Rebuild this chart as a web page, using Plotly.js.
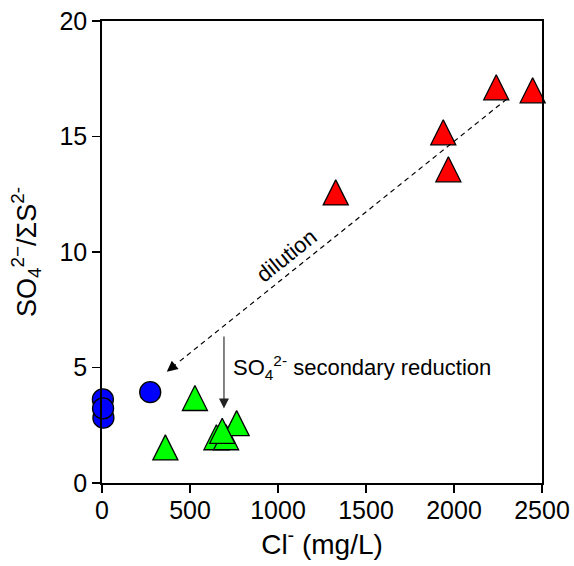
<!DOCTYPE html>
<html><head><meta charset="utf-8">
<script src="https://cdn.plot.ly/plotly-3.0.1.min.js"></script>
<style>body{margin:0;background:#fff;} #chart{width:574px;height:566px;}</style>
</head><body><div id="chart"></div>
<script>
// Data
const blueX = [5, 8, 6, 274];
const blueY = [3.62, 2.83, 3.23, 3.93];
const greenX = [360, 528, 650, 705, 765, 683];
const greenY = [1.36, 3.5, 1.8, 1.8, 2.41, 2.08];
const redX = [1328, 1939, 1968, 2240, 2447];
const redY = [12.4, 15.0, 13.4, 16.95, 16.82];
const xTicks = [0, 500, 1000, 1500, 2000, 2500];
const yTicks = [0, 5, 10, 15, 20];
const dilutionX = [2300, 368];
const dilutionY = [16.62, 4.82];
const reductionX = 693;
const reductionY = [6.41, 3.23];

const FONT = 'Liberation Sans, Arial, sans-serif';
const outline = {color: '#000', width: 1.3};
// equilateral-looking upward triangle, centred on its centroid
const TRI = 25;
const triMarker = (color) => ({symbol: 'arrow-down', angle: 180, standoff: TRI * 2 / 3,
  size: TRI, color: color, line: outline});

const traces = [
  {x: blueX, y: blueY, type: 'scatter', mode: 'markers', cliponaxis: false,
   marker: {symbol: 'circle', size: 21, color: '#0000ff', line: outline}},
  {x: greenX, y: greenY, type: 'scatter', mode: 'markers', cliponaxis: false,
   marker: triMarker('#00ff00')},
  {x: redX, y: redY, type: 'scatter', mode: 'markers', cliponaxis: false,
   marker: triMarker('#ff0000')}
];

const slopeDY = (dilutionY[0] - dilutionY[1]) / (dilutionX[0] - dilutionX[1]);
const tailX = dilutionX[1] + 60;
const tailY = dilutionY[1] + 60 * slopeDY;

const layout = {
  width: 574, height: 566,
  margin: {l: 102, r: 32, t: 21, b: 83},
  paper_bgcolor: '#fff', plot_bgcolor: '#fff',
  showlegend: false,
  font: {family: FONT, size: 25, color: '#000'},
  xaxis: {
    range: [0, 2500], tickvals: xTicks, ticktext: xTicks.map(String),
    ticks: 'outside', ticklen: 8, tickwidth: 1.5, tickcolor: '#000',
    showline: true, linewidth: 1.8, linecolor: '#000', mirror: true,
    showgrid: false, zeroline: false,
    tickfont: {size: 25}, ticklabelstandoff: -4,
    title: {text: 'Cl<sup>-</sup> (mg/L)', font: {size: 28}, standoff: 8}
  },
  yaxis: {
    range: [0, 20], tickvals: yTicks, ticktext: yTicks.map(String),
    ticks: 'outside', ticklen: 8, tickwidth: 1.5, tickcolor: '#000',
    showline: true, linewidth: 1.8, linecolor: '#000', mirror: true,
    showgrid: false, zeroline: false,
    tickfont: {size: 25},
    title: {text: 'SO<sub>4</sub><sup>2−</sup>/ΣS<sup>2-</sup>', font: {size: 27}, standoff: 15}
  },
  shapes: [
    {type: 'line', xref: 'x', yref: 'y', x0: dilutionX[0], y0: dilutionY[0], x1: tailX, y1: tailY,
     line: {color: '#000', width: 1.2, dash: '5px,4px'}}
  ],
  annotations: [
    {x: dilutionX[1], y: dilutionY[1], ax: tailX, ay: tailY, axref: 'x', ayref: 'y', xref: 'x', yref: 'y',
     text: '', showarrow: true, arrowhead: 2, arrowsize: 1.8, arrowwidth: 1.2, arrowcolor: '#000'},
    {x: reductionX, y: reductionY[1], ax: reductionX, ay: reductionY[0], axref: 'x', ayref: 'y', xref: 'x', yref: 'y',
     text: '', showarrow: true, arrowhead: 2, arrowsize: 1.8, arrowwidth: 1.1, arrowcolor: '#222'},
    {x: 1050, y: 9.83, xref: 'x', yref: 'y', text: 'dilution', showarrow: false, textangle: -38.7,
     font: {size: 22, family: FONT, color: '#000'}},
    {x: 735, y: 4.98, xref: 'x', yref: 'y', xanchor: 'left', yanchor: 'middle',
     text: 'SO<sub>4</sub><sup>2-</sup> secondary reduction', showarrow: false,
     font: {size: 22, family: FONT, color: '#000'}}
  ]
};

Plotly.newPlot('chart', traces, layout, {displayModeBar: false, staticPlot: true});
</script>
</body></html>
